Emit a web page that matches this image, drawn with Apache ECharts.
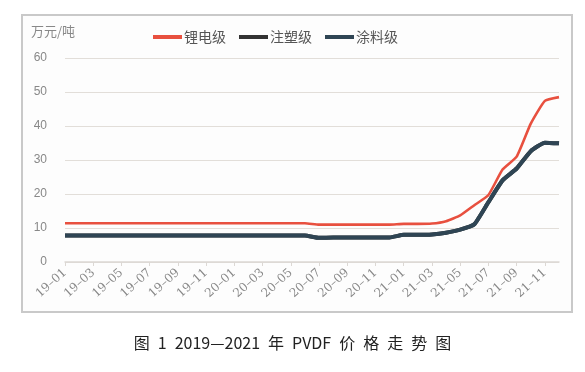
<!DOCTYPE html>
<html>
<head>
<meta charset="utf-8">
<script src="https://cdn.jsdelivr.net/npm/echarts@6/dist/echarts.min.js"></script>
<style>
html,body{margin:0;padding:0;background:#ffffff;}
#frame{position:absolute;left:21px;top:14px;width:548px;height:295px;border:2px solid #c9c9c9;background:#fdfdfd;}
#chart{position:absolute;left:0;top:0;width:585px;height:372px;}
</style>
</head>
<body>
<div id="frame"></div>
<div id="chart"></div>
<script>
const months = ['19-01','19-02','19-03','19-04','19-05','19-06','19-07','19-08','19-09','19-10','19-11','19-12',
'20-01','20-02','20-03','20-04','20-05','20-06','20-07','20-08','20-09','20-10','20-11','20-12',
'21-01','21-02','21-03','21-04','21-05','21-06','21-07','21-08','21-09','21-10','21-11','21-12'];
const seriesNames = ['锂电级','注塑级','涂料级'];
const lithium = [11.4,11.4,11.4,11.4,11.4,11.4,11.4,11.4,11.4,11.4,11.4,11.4,
11.4,11.4,11.4,11.4,11.4,11.4,11.0,11.0,11.0,11.0,11.0,11.0,
11.2,11.2,11.3,12.0,13.7,16.7,19.7,27.2,31.0,40.7,47.4,48.5];
const injection = [7.8,7.8,7.8,7.8,7.8,7.8,7.8,7.8,7.8,7.8,7.8,7.8,
7.8,7.8,7.8,7.8,7.8,7.8,7.1,7.2,7.2,7.2,7.2,7.2,
8.0,8.0,8.1,8.6,9.5,11.1,17.6,24.0,27.5,32.6,35.1,34.9];
const coating = [7.8,7.8,7.8,7.8,7.8,7.8,7.8,7.8,7.8,7.8,7.8,7.8,
7.8,7.8,7.8,7.8,7.8,7.8,7.1,7.2,7.2,7.2,7.2,7.2,
8.0,8.0,8.1,8.6,9.5,11.1,17.6,24.0,27.5,32.6,35.1,34.9];
const yTicks = [0,10,20,30,40,50,60];
const unitLabel = '万元/吨';
const caption = '图\u20021\u20022019—2021\u2002年\u2002PVDF\u2002价\u2002格\u2002走\u2002势\u2002图';

const chart = echarts.init(document.getElementById('chart'), null, {renderer:'canvas'});
const serifFont = '"DejaVu Serif","Liberation Serif","Noto Sans CJK SC",serif';
chart.setOption({
  animation:false,
  backgroundColor:'transparent',
  color:['#e8503f','#333333','#2f4554'],
  legend:{
    top:25, left:148,
    icon:'rect', itemWidth:29, itemHeight:4, itemGap:13,
    textStyle:{fontSize:14, color:'#555', fontFamily:'"Noto Sans CJK SC",sans-serif', padding:[0,0,0,-3]},
    data:seriesNames
  },
  grid:{left:65, right:26, top:58, bottom:110},
  xAxis:{
    type:'category', data:months, boundaryGap:false,
    axisLine:{lineStyle:{color:'#dcd8d4', width:1.5}},
    axisTick:{interval:1, length:4, lineStyle:{color:'#dcd8d4'}},
    axisLabel:{interval:1, rotate:42, fontSize:12, color:'#888', fontFamily:serifFont, margin:9,
      formatter: v => v.replace('-', '–')}
  },
  yAxis:{
    type:'value', min:0, max:60, interval:10,
    name:unitLabel, nameLocation:'end', nameGap:20,
    nameTextStyle:{fontSize:13, color:'#888', align:'right', padding:[0,-10,0,0], fontFamily:'"Noto Sans CJK SC",sans-serif'},
    axisLine:{show:false}, axisTick:{show:false},
    axisLabel:{fontSize:12, color:'#888', fontFamily:'"Liberation Sans",sans-serif', margin:18,
      formatter: v => yTicks.includes(v) ? String(v) : ''},
    splitLine:{lineStyle:{color:'#e2ded9', width:1.2}}
  },
  graphic:[{
    type:'text', left:'center', top:335,
    style:{text:caption, fontSize:16, fill:'#222', fontFamily:'"Noto Sans CJK SC",sans-serif'}
  }],
  series:[
    {name:seriesNames[0], type:'line', data:lithium, symbol:'none', smooth:0.15, lineStyle:{width:2.6, color:'#e8503f'}, z:3},
    {name:seriesNames[1], type:'line', data:injection, symbol:'none', smooth:0.15, lineStyle:{width:4, color:'#333333'}, z:2},
    {name:seriesNames[2], type:'line', data:coating, symbol:'none', smooth:0.15, lineStyle:{width:4, color:'#2f4554'}, z:2}
  ]
});
</script>
</body>
</html>
